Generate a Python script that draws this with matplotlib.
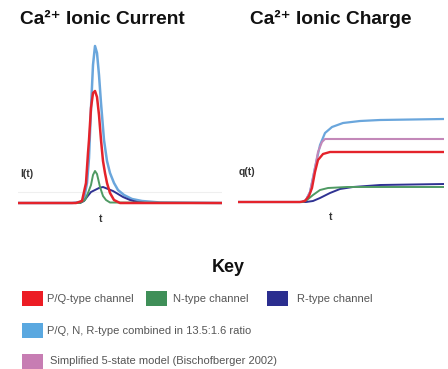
import matplotlib
matplotlib.use("Agg")
import matplotlib.pyplot as plt
from matplotlib.patches import Rectangle

plt.rcParams["font.family"] = ["Liberation Sans", "DejaVu Sans"]

W, H = 448, 369

# --- Ca2+ current traces (t, I), arbitrary units ---
cur_pq_t = [0, 58, 64, 68, 70, 71, 73, 75, 77, 79, 81, 83, 85, 87, 89, 92, 96, 102, 204]
cur_pq_i = [0, 0, 2, 20, 50, 63, 95, 110, 112, 106, 88, 63, 42, 30, 20, 10, 3, 0, 0]

cur_n_t = [0, 62, 67, 70, 73, 75, 77, 79, 82, 85, 88, 92, 204]
cur_n_i = [0, 0, 3, 10, 18, 28, 32, 29, 16, 7, 3, 0.5, 0]

cur_r_t = [0, 62, 66, 69, 73, 77, 81, 85, 90, 95, 100, 105, 112, 119, 127, 204]
cur_r_i = [0, 0, 2, 6, 11, 13, 15, 16, 14, 12, 9, 6, 3, 1, 0, 0]

cur_all_t = [0, 54, 62, 66, 69, 71, 73, 75, 77, 79, 81, 83, 86, 89, 92, 96, 100, 106, 114, 124, 142, 204]
cur_all_i = [0, 0, 1, 4, 20, 45, 95, 138, 157, 150, 128, 100, 63, 42, 30, 20, 13, 8, 4, 2, 0.5, 0]

# --- Ca2+ charge traces (t, q) ---
chg_pq_t = [0, 62, 67, 71, 74, 77, 80, 85, 92, 206]
chg_pq_q = [0, 0, 1, 6, 14, 30, 42, 48, 50, 50]

chg_all_t = [0, 64, 68, 72, 77, 82, 87, 94, 105, 122, 142, 206]
chg_all_q = [0, 0, 2, 10, 34, 57, 69, 75, 79, 81, 82, 83]

chg_5st_t = [0, 64, 68, 72, 75, 80, 84, 87, 89, 206]
chg_5st_q = [0, 0, 2, 10, 24, 50, 60, 63, 63, 63]

chg_n_t = [0, 65, 69, 75, 82, 90, 109, 206]
chg_n_q = [0, 0, 2, 7, 12, 14, 15, 15]

chg_r_t = [0, 68, 75, 82, 92, 102, 115, 142, 206]
chg_r_q = [0, 0, 1, 4, 9, 13, 15, 17, 18]

key_labels = ["P/Q-type channel", "N-type channel", "R-type channel",
              "P/Q, N, R-type combined in 13.5:1.6 ratio",
              "Simplified 5-state model (Bischofberger 2002)"]
key_colors = ["#ec1c24", "#3f8f58", "#2b2e8f", "#5aa8e0", "#c77db3"]

RED, GREEN, NAVY, BLUE, PINK = "#e4232b", "#4f9a63", "#2f3292", "#6aa6dc", "#c388b9"

fig = plt.figure(figsize=(W / 100, H / 100), dpi=100)


def px_axes(x0, x1, y0, y1):
    return fig.add_axes([x0 / W, 1 - y1 / H, (x1 - x0) / W, (y1 - y0) / H])


# left panel: current
ax1 = px_axes(18, 222, 40, 210)
ax1.axhline(11, color="#efefef", lw=0.8, zorder=0)
ax1.plot(cur_all_t, cur_all_i, color=BLUE, lw=1.8)
ax1.plot(cur_r_t, cur_r_i, color=NAVY, lw=1.4)
ax1.plot(cur_n_t, cur_n_i, color=GREEN, lw=1.4)
ax1.plot(cur_pq_t, cur_pq_i, color=RED, lw=1.8)
ax1.set_xlim(0, 204)
ax1.set_ylim(-7, 163)
ax1.axis("off")

# right panel: charge
ax2 = px_axes(238, 444, 40, 210)
ax2.plot(chg_all_t, chg_all_q, color=BLUE, lw=1.6)
ax2.plot(chg_5st_t, chg_5st_q, color=PINK, lw=1.5)
ax2.plot(chg_r_t, chg_r_q, color=NAVY, lw=1.4)
ax2.plot(chg_n_t, chg_n_q, color=GREEN, lw=1.4)
ax2.plot(chg_pq_t, chg_pq_q, color=RED, lw=1.7)
ax2.set_xlim(0, 206)
ax2.set_ylim(-8, 162)
ax2.axis("off")


def ftext(x, y, s, **kw):
    fig.text(x / W, 1 - y / H, s, **kw)


ftext(20, 19, "Ca²⁺ Ionic Current", fontsize=13.8, fontweight="bold",
      color="#111111", va="center", ha="left")
ftext(250, 19, "Ca²⁺ Ionic Charge", fontsize=13.8, fontweight="bold",
      color="#111111", va="center", ha="left")

ftext(20, 174, "I(t)", fontsize=7.5, fontweight="bold", color="#333333", va="center")
ftext(239, 172, "q(t)", fontsize=7.5, fontweight="bold", color="#333333", va="center")
ftext(101, 219, "t", fontsize=7.5, fontweight="bold", color="#333333", va="center", ha="center")
ftext(331, 217, "t", fontsize=7.5, fontweight="bold", color="#333333", va="center", ha="center")

ftext(228, 267, "Key", fontsize=13, fontweight="bold", color="#111111", va="center", ha="center")

# key swatches and labels
key_pos = [(22, 291, 47), (146, 291, 173), (267, 291, 297), (22, 323, 47), (22, 354, 50)]
for (sx, sy, tx), lab, col in zip(key_pos, key_labels, key_colors):
    fig.patches.append(Rectangle((sx / W, 1 - (sy + 15) / H), 21 / W, 15 / H,
                                 transform=fig.transFigure, facecolor=col,
                                 edgecolor="none"))
    ftext(tx, sy + 7.5, lab, fontsize=8, color="#555555", va="center", ha="left")

fig.savefig("out.png", dpi=100)
